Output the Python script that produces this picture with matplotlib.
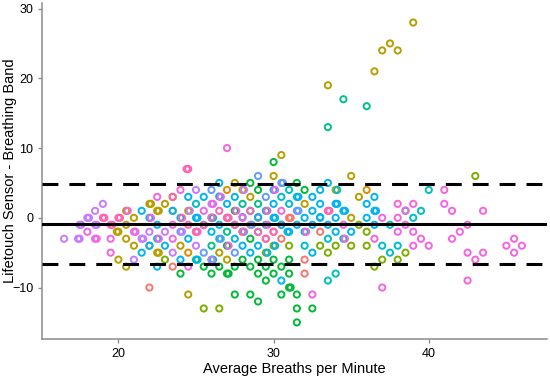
import numpy as np
import matplotlib.pyplot as plt

plt.rcParams['font.family'] = ['Liberation Sans', 'DejaVu Sans']

# ggplot hue colours, one per subject
colours = ["#F8766D", "#DE8C00", "#B79F00", "#7CAE00", "#00BA38", "#00C08B",
           "#00BFC4", "#00B4F0", "#619CFF", "#C77CFF", "#F564E3", "#FF64B0"]

# (average, difference) pairs per subject
s0 = [(22, -10), (31, 0), (31.1, 0), (30.5, -1), (33, -2), (30.5, -3), (32, -6), (32, -8),
      (28.5, -1), (29, 0), (30, -2), (29.5, -3), (23.5, -7)]
s1 = [(36, 4), (27, 4), (24.5, -5)]
s2 = [(39, 28), (37, 24), (37.5, 25), (38, 24), (36.5, 21), (33.5, 19), (30.5, 9), (35, 6),
      (30, 6), (34, 4), (35.5, 3), (32, 2), (35, 0), (20.5, 1), (20, -2), (19.9, -2),
      (20.5, -1), (20.5, -3), (20, -6), (20.5, -7), (21, 0), (21, -4), (22, 2), (22.1, 2),
      (22, -4), (22.5, 1), (22.6, 1), (22.5, -5), (22.6, -5), (23, 2), (24.5, -11),
      (23.5, 3), (24, -4), (27.5, 5), (28, 4), (24.5, 1), (25, -2), (26.5, -5), (27, -6),
      (28.5, 3), (23.5, 1)]
s3 = [(43, 6), (38.5, -5), (38, -6), (37, -6), (36.5, -7), (35.5, -1), (36, -2), (31, -4),
      (33, -4), (34, -4), (35, -4), (36, -4), (33.5, -5), (23, -6), (25.5, -13),
      (26.5, -13), (29.5, -5), (30, -4)]
s4 = [(30, 8), (31.5, 5), (28.5, 5), (32, 4), (29, 4), (31, -6), (30.5, -7), (31, -8),
      (24, -8), (26, -8), (27, -8), (27.1, -8), (29, -8), (30, -8), (29.5, -9), (31, -10),
      (31.1, -10), (27.5, -11), (28.5, -11), (30.5, -11), (31.5, -11), (29, -12),
      (31.5, -13), (32.5, -13), (31.5, -15), (28, -6), (28.5, -7), (29, -6), (29.5, -7),
      (27.5, -7), (26.5, -7), (27, -4), (28, -2), (28.5, -3), (30, -6), (25.5, -7),
      (26, -6), (27.5, 1)]
s5 = [(34.5, 17), (36, 16), (33.5, 13), (33, 0.1), (28, 2), (29, 2), (26, -4), (27, -2),
      (25, -6)]
s6 = [(40, 4), (38.5, 1), (39.5, 1), (39, 0), (38, -4), (37.5, -5), (37, -4), (37.5, -1),
      (31, 4), (30.5, 3), (31, 2), (32, -4), (33.5, -3), (34.5, -3), (34, -8), (33.5, -9),
      (32, -2), (34.1, 4), (29, -2), (28.5, 1), (27, 0), (26.5, -3), (25, 2)]
s7 = [(33.5, 5), (26.5, 5), (33, 4), (31.5, 3), (31.6, 3), (32.5, 3), (36.5, 3), (33, 2),
      (34, 2), (34.1, 2), (36, 2), (32.5, 1), (34.5, 1), (34.6, 1), (36.5, 1), (36.6, 1),
      (32, 0), (33, 0), (34, 0), (36, 0), (31.5, -1), (32.5, -1), (33.5, -1), (36.5, -1),
      (31, -2), (30.9, -2), (34, -2), (35, -2), (32.5, -5), (30.5, -9), (22, 0), (22, -4),
      (21.5, 1), (21.5, -5), (22.5, -7), (22.5, -1), (22.5, -3), (23.5, 1), (24, 0),
      (25, 0), (25.1, 0), (26, 0), (26.1, 0), (27, 2), (28, 0.1), (29, 0.1), (29.5, 1),
      (30, 2), (30.5, -1), (25.5, -1), (24.5, -3), (26.5, -1), (27.5, -3), (28.5, -5),
      (29.6, -5), (30, 0), (30.1, 0), (24.5, 3), (25.5, 3), (23, -4), (24, -6), (25.1, -6),
      (26, -2), (27.5, -1), (28, -4), (29, -4), (26.1, -6), (30.1, -4), (30, 4), (27.5, 3),
      (26.5, 3.05), (29.5, -1)]
s8 = [(30.5, 5), (30.6, 5), (29, 6), (24, -2), (26.6, -3), (28.1, -2), (25.5, -5), (26, 4),
      (27.5, -5), (29.5, 3), (28.6, -1), (31.5, 1), (31.6, 1)]
s9 = [(16.5, -3), (17.4, -3), (17.5, -3), (17.5, -1), (17.6, -1), (18.5, -1), (18.6, -1),
      (18, 0), (18.1, 0), (18.5, 1), (19, 2), (21, -2), (21, -6), (22, -2), (21.5, -3),
      (21.6, -3), (23, -2), (24.1, -2), (23.5, -5), (25, -4), (26, -6.05), (24.6, 1),
      (25, 4), (28.1, 4), (26, 2)]
s10 = [(37, 0), (38, 2), (39, 2), (41, 2), (38.5, 1.05), (41.5, 1), (43.5, 1), (38, 0),
       (38.5, -1), (42.5, -1), (38, -2), (39, -2), (42, -2), (39.5, -3), (41.5, -3),
       (45.5, -3), (39, -4), (40, -4), (45, -4), (46, -4), (42.5, -5), (43.5, -5),
       (45.5, -5), (43, -6), (42.5, -9), (41, 4), (37, -10), (32.5, -11), (34.5, -1),
       (34.6, -3), (36.5, -3), (32.1, -2), (30.5, 1), (27, 10), (18, -2), (18.5, -3),
       (18.6, -3), (19.5, -3), (19.5, -5), (22.5, 3), (22.1, 0), (22.6, -3), (23.5, -3),
       (24, 4), (23.5, -1), (25.1, -2), (26.1, 2), (27.1, -4), (28, 0), (24.5, -7),
       (25.5, 1), (26.6, 3), (27.6, 1), (29.6, -1), (30.1, 4), (21.1, -2), (20.6, 1)]
s11 = [(24.4, 7), (24.5, 7), (19, 0), (19.1, 0), (20, 0), (20.1, 0), (19.5, -1),
       (19.6, -1), (33.5, 1), (33.6, 1), (25, -2), (26.5, 1), (27, 0), (27.1, 0), (24.1, 0),
       (25.5, -1.05), (28, -2), (29, -2.05), (29.5, -3), (30, -2), (26, 0.05), (28.5, 1),
       (23.5, 3), (24.5, -1), (27.5, -1), (29.6, 1)]
subjects = [s0, s1, s2, s3, s4, s5, s6, s7, s8, s9, s10, s11]

mean_diff = -0.85
upper_loa = 4.8
lower_loa = -6.65

fig = plt.figure(figsize=(5.5, 3.76), dpi=100)
ax = fig.add_axes([0.077, 0.098, 0.917, 0.894])

for col, pts in zip(colours, subjects):
    pts = np.array(pts)
    ax.scatter(pts[:, 0], pts[:, 1], s=20, facecolors='none', edgecolors=col,
               linewidths=1.4, zorder=2)

ax.axhline(mean_diff, color='black', lw=2.2, zorder=3)
ax.axhline(upper_loa, color='black', lw=2.2, ls=(0, (5.2, 3.6)), zorder=3)
ax.axhline(lower_loa, color='black', lw=2.2, ls=(0, (5.2, 3.6)), zorder=3)

ax.set_xlim(15.1, 47.6)
ax.set_ylim(-17.4, 30.8)
ax.set_xticks([20, 30, 40])
ax.set_yticks([-10, 0, 10, 20, 30])
for side in ['top', 'right']:
    ax.spines[side].set_visible(False)
for side in ['left', 'bottom']:
    ax.spines[side].set_color('#8c8c8c')
    ax.spines[side].set_linewidth(1.1)
ax.tick_params(colors='#8c8c8c', labelcolor='black', labelsize=9, length=3, width=1)
ax.set_xlabel('Average Breaths per Minute', fontsize=10.5, labelpad=1)
ax.set_ylabel('Lifetouch Sensor - Breathing Band', fontsize=10.5)
ax.yaxis.set_label_coords(-0.05, 0.5)

fig.savefig('out.png', dpi=100)
